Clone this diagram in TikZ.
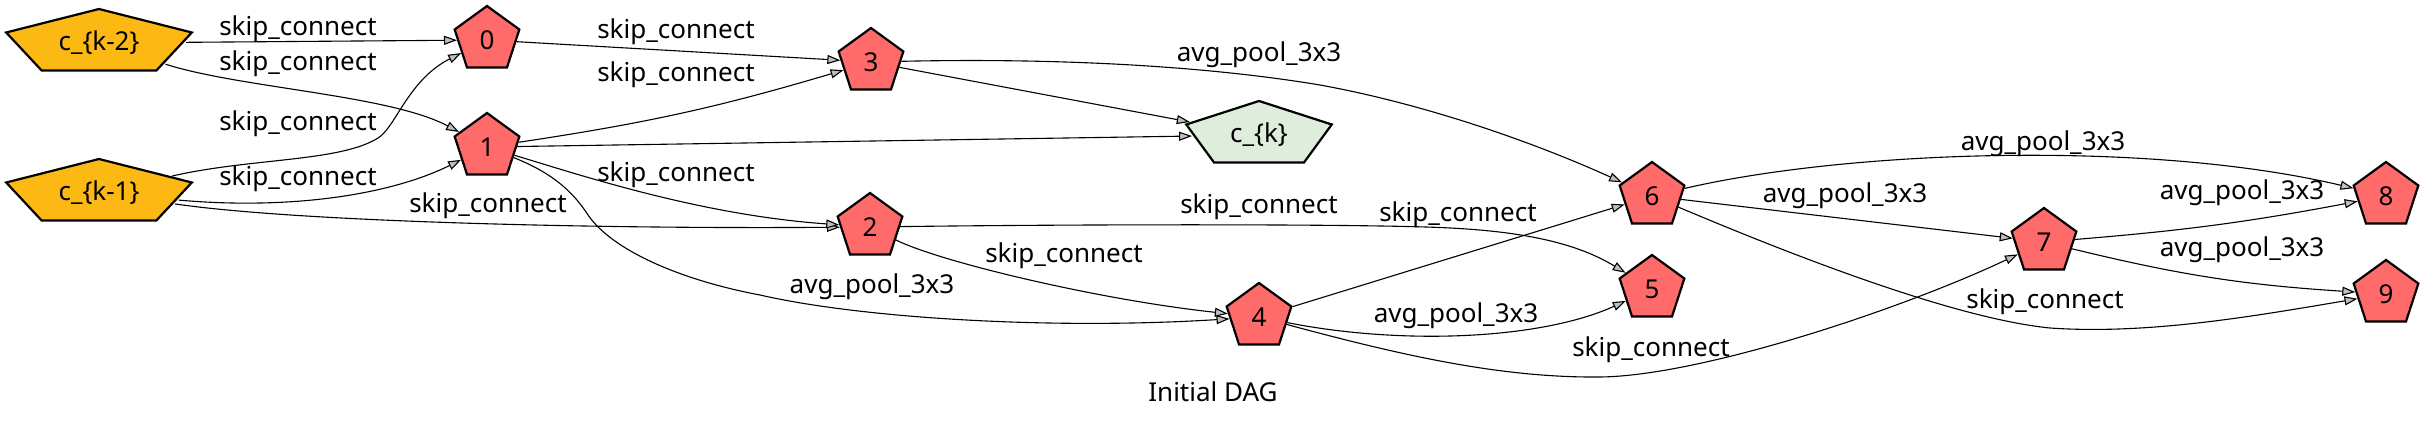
\documentclass[tikz,border=0pt]{standalone}
\usepackage{fontspec}
\setmainfont{Noto Sans}
\usepackage{tikz}
\usetikzlibrary{arrows.meta,shapes.geometric}
\usepackage{xcolor}
\definecolor{opred}{HTML}{FF6A6A}
\definecolor{ingold}{HTML}{FDB913}
\definecolor{outgreen}{HTML}{DEEDDC}

\begin{document}
\begin{tikzpicture}[
  x=1pt, y=-1pt,
  font=\fontsize{26}{30}\selectfont,
  >={Triangle[length=13pt,width=9pt,fill=black!25]},
  pent/.style={draw, line width=2.2pt, regular polygon, regular polygon sides=5, minimum size=68pt, inner sep=0pt},
  op/.style={pent, fill=opred},
  inp/.style={pent, fill=ingold, xscale=2.87, transform shape},
  outp/.style={pent, fill=outgreen, xscale=2.25, transform shape},
  lbl/.style={inner sep=0pt},
  arr/.style={->, line width=1.1pt}
]
\useasboundingbox (0,0) rectangle (2425,422);

\node[inp] (km2) at (99,43) {};
\node[lbl] (km2txt) at (km2) {c\_\{k-2\}};
\node[inp] (km1) at (99,193) {};
\node[lbl] (km1txt) at (km1) {c\_\{k-1\}};
\node[op] (n0) at (487,40) {0};
\node[op] (n1) at (487,147) {1};
\node[op] (n2) at (870,227) {2};
\node[op] (n3) at (871,62) {3};
\node[op] (n4) at (1259,317) {4};
\node[op] (n5) at (1652,289) {5};
\node[op] (n6) at (1652,196) {6};
\node[op] (n7) at (2044,242) {7};
\node[op] (n8) at (2386,196) {8};
\node[op] (n9) at (2386,294) {9};
\node[outp] (ck) at (1259,135) {};
\node[lbl] (cktxt) at (ck) {c\_\{k\}};

\draw[arr] (km2) -- (n0);
\draw[arr] (km2) .. controls (240,88) and (390,95) .. (n1);
\draw[arr] (km1) .. controls (250,158) and (340,162) .. (378,138) .. controls (396,127) and (408,80) .. (n0);
\draw[arr] (km1) .. controls (290,210) and (390,195) .. (n1);
\draw[arr] (km1) .. controls (300,222) and (600,229) .. (n2);
\draw[arr] (n0) -- (n3);
\draw[arr] (n1) to[bend right=4] (n3);
\draw[arr] (n1) -- (ck);
\draw[arr] (n1) .. controls (580,175) and (700,215) .. (n2);
\draw[arr] (n1) .. controls (550,172) and (572,190) .. (588,215) .. controls (612,250) and (680,280) .. (760,295) .. controls (860,318) and (1050,330) .. (n4);
\draw[arr] (n2) .. controls (940,262) and (1100,300) .. (n4);
\draw[arr] (n2) .. controls (1100,224) and (1380,224) .. (1450,228) .. controls (1530,232) and (1580,245) .. (n5);
\draw[arr] (n3) .. controls (1050,58) and (1200,65) .. (1320,85) .. controls (1430,105) and (1540,145) .. (n6);
\draw[arr] (n3) -- (ck);
\draw[arr] (n4) -- (n6);
\draw[arr] (n4) .. controls (1400,345) and (1540,340) .. (n5);
\draw[arr] (n4) .. controls (1400,355) and (1500,378) .. (1600,377) .. controls (1700,376) and (1900,310) .. (n7);
\draw[arr] (n6) .. controls (1850,150) and (2150,140) .. (n8);
\draw[arr] (n6) -- (n7);
\draw[arr] (n6) .. controls (1780,250) and (1950,318) .. (2050,328) .. controls (2150,335) and (2260,315) .. (n9);
\draw[arr] (n7) to[bend right=3] (n8);
\draw[arr] (n7) to[bend right=5] (n9);

\node[lbl] (lb-k2-0) at (298,29) {skip\_connect};
\node[lbl] (lb-k2-1) at (298,64) {skip\_connect};
\node[lbl] (lb-k1-0) at (298,124) {skip\_connect};
\node[lbl] (lb-k1-1) at (298,179) {skip\_connect};
\node[lbl] (lb-k1-2) at (488,206) {skip\_connect};
\node[lbl] (lb-0-3) at (676,32) {skip\_connect};
\node[lbl] (lb-1-3) at (676,75) {skip\_connect};
\node[lbl] (lb-1-2) at (676,175) {skip\_connect};
\node[lbl] (lb-1-4) at (872,287) {avg\_pool\_3x3};
\node[lbl] (lb-2-4) at (1064,256) {skip\_connect};
\node[lbl] (lb-2-5) at (1259,207) {skip\_connect};
\node[lbl] (lb-3-6) at (1259,55) {avg\_pool\_3x3};
\node[lbl] (lb-4-6) at (1458,215) {skip\_connect};
\node[lbl] (lb-4-5) at (1456,316) {avg\_pool\_3x3};
\node[lbl] (lb-4-7) at (1651,350) {skip\_connect};
\node[lbl] (lb-6-8) at (2043,144) {avg\_pool\_3x3};
\node[lbl] (lb-6-7) at (1845,196) {avg\_pool\_3x3};
\node[lbl] (lb-7-8) at (2242,193) {avg\_pool\_3x3};
\node[lbl] (lb-7-9) at (2242,250) {avg\_pool\_3x3};
\node[lbl] (lb-6-9) at (2045,302) {skip\_connect};
\node[lbl] (title) at (1213,392) {Initial DAG};
\end{tikzpicture}
\end{document}
